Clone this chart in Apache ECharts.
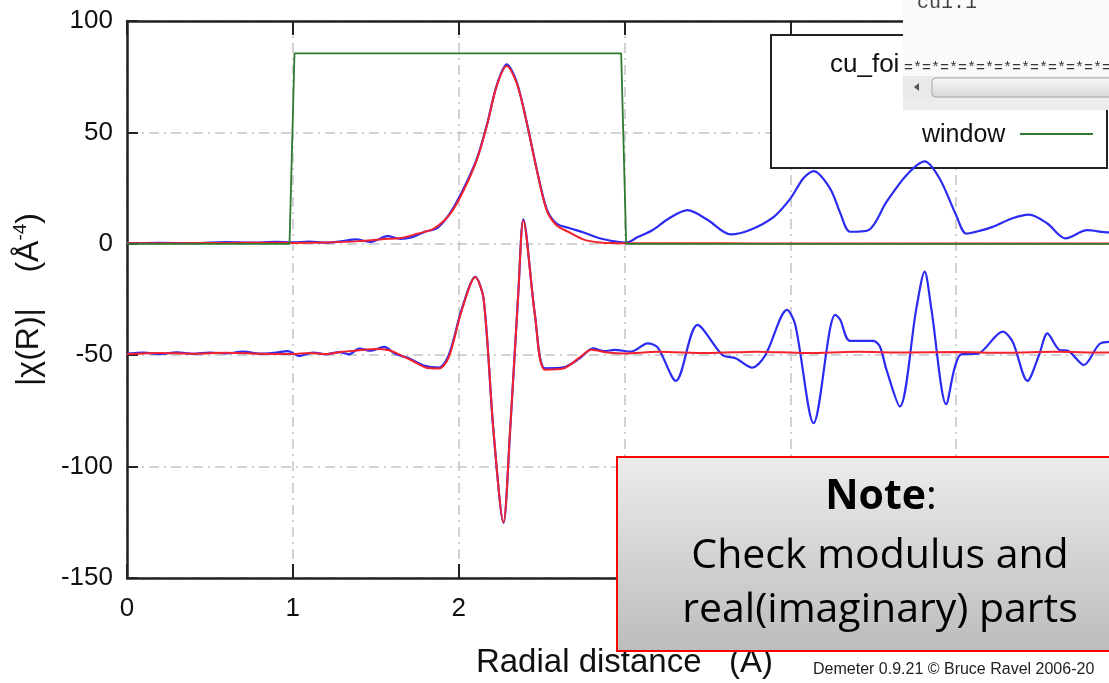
<!DOCTYPE html>
<html>
<head>
<meta charset="utf-8">
<script src="https://cdn.jsdelivr.net/npm/echarts@6/dist/echarts.min.js"></script>
<style>
html,body{margin:0;padding:0;background:#fff;}
#chart{width:1109px;height:683px;}
</style>
</head>
<body>
<div id="chart"></div>
<script>
// ---- data ----
const xTicks = [0, 1, 2, 3, 4, 5, 6];
const yTicks = [-150, -100, -50, 0, 50, 100];

// |chi(R)| data (blue)
const modDataR = [0,0.2,0.4,0.6,0.75,0.9,1.0,1.1,1.2,1.3,1.38,1.47,1.57,1.65,1.72,1.8,1.87,1.95,2.03,2.11,2.17,2.23,2.29,2.35,2.41,2.47,2.53,2.59,2.67,2.75,2.85,2.95,3.01,3.08,3.17,3.27,3.38,3.5,3.64,3.76,3.9,4.0,4.08,4.14,4.24,4.3,4.36,4.47,4.58,4.7,4.81,4.9,5.0,5.06,5.14,5.22,5.34,5.44,5.55,5.66,5.79,5.92,6.0];
const modDataY = [0.3,0.4,0.3,0.8,0.5,0.9,0.6,1.0,0.5,1.2,2.0,0.8,3.4,2.2,3.0,5.5,7.0,14.0,24.8,38.2,53.3,71.2,80.5,72.6,54.7,33.7,15.8,9.1,7.0,5.2,2.5,1.0,0.5,3.0,6.2,11.5,15.1,10.8,4.2,6.3,12.1,20.3,29.5,32.6,24.8,14.0,5.4,6.1,18.8,30.8,37.0,29.3,12.8,4.6,5.8,7.6,11.5,13.1,9.1,2.4,6.1,5.1,6.0];

// |chi(R)| fit (red)
const modFitR = [0,0.3,0.6,0.9,1.0,1.2,1.4,1.55,1.65,1.75,1.85,1.95,2.03,2.11,2.17,2.23,2.29,2.35,2.41,2.47,2.53,2.59,2.67,2.75,2.85,2.95,3.2,3.6,4.0,6.0];
const modFitY = [0.2,0.3,0.4,0.5,0.4,0.6,1.2,2.2,2.6,4.5,6.8,13.5,24.0,37.8,53.0,71.0,79.8,72.2,54.5,33.5,15.2,8.3,5.0,2.0,0.6,0.3,0.2,0.2,0.1,0.1];

// Re[chi(R)] data, plotted with -50 offset (blue)
const reDataR = [0,0.1,0.2,0.3,0.4,0.5,0.6,0.7,0.8,0.9,0.97,1.04,1.12,1.2,1.28,1.34,1.4,1.47,1.55,1.62,1.7,1.79,1.88,1.94,2.02,2.1,2.15,2.21,2.27,2.31,2.36,2.39,2.46,2.52,2.63,2.73,2.81,2.88,2.94,3.04,3.14,3.2,3.31,3.44,3.59,3.67,3.77,3.85,3.98,4.03,4.14,4.24,4.27,4.3,4.36,4.5,4.54,4.58,4.66,4.76,4.81,4.85,4.94,4.99,5.03,5.13,5.28,5.34,5.43,5.5,5.55,5.62,5.68,5.77,5.87,5.95,6.0];
const reDataY = [-49.3,-48.8,-49.5,-48.7,-49.4,-48.8,-49.2,-48.4,-49.3,-48.8,-48.2,-50.4,-48.8,-49.6,-48.6,-49.6,-47.0,-48.0,-46.3,-49.5,-51.4,-54.7,-55.6,-50.0,-29,-14.8,-24.5,-84.2,-125.3,-84,-21.5,11,-31.9,-55.9,-55.5,-51.4,-46.9,-48.2,-47.6,-48.4,-44.7,-46.5,-61.5,-36.4,-49.9,-51.4,-55.6,-49.9,-29.7,-36.4,-80.5,-37.9,-31.9,-34,-43.6,-43.6,-46.1,-56.6,-73,-29,-12.5,-29,-72,-55.9,-49.6,-49.3,-39.4,-43.9,-61.5,-49.9,-40.2,-47.5,-48.2,-54.4,-44.7,-44,-46];

// Re[chi(R)] fit, plotted with -50 offset (red)
const reFitR = [0,0.2,0.4,0.6,0.8,1.0,1.1,1.2,1.3,1.4,1.5,1.58,1.65,1.72,1.8,1.88,1.94,2.02,2.1,2.15,2.21,2.27,2.31,2.36,2.39,2.46,2.52,2.63,2.73,2.8,2.9,3.0,3.2,3.5,3.8,4.1,4.4,4.7,5.0,5.3,5.6,5.9,6.0];
const reFitY = [-49.5,-49,-49.3,-48.9,-49.3,-49.5,-49,-49.5,-48.5,-47.8,-47.2,-47.8,-50,-52.5,-55.5,-56,-51,-29.5,-15,-24.5,-84,-125,-84,-21.5,10.5,-32,-56.5,-56,-51,-47.5,-48.8,-49.2,-48.5,-49,-48.4,-49,-48.5,-48.8,-48.6,-48.9,-48.5,-48.8,-48.7];

// window (green)
const winR = [0, 0.98, 1.01, 2.98, 3.01, 6.0];
const winY = [0, 0, 85.5, 85.5, 0, 0];

const zip = (xs, ys) => xs.map((x, i) => [x, ys[i]]);

const chart = echarts.init(document.getElementById('chart'));
const FONT = 'Liberation Sans, Arial, sans-serif';
const gridLine = { show: true, lineStyle: { color: '#c4c4c4', width: 1.5, type: [10, 5, 2, 5] } };

const option = {
  backgroundColor: '#ffffff',
  animation: false,
  grid: { left: 127, right: -13, top: 21, bottom: 105, containLabel: false, outerBoundsMode: 'none' },
  xAxis: [
    {
      type: 'value', min: xTicks[0], max: xTicks[xTicks.length - 1], interval: 1, position: 'bottom',
      axisLine: { show: true, onZero: false, lineStyle: { color: '#222', width: 2.5 } },
      axisTick: { show: true, inside: true, length: 14, lineStyle: { color: '#222', width: 2 } },
      axisLabel: { color: '#111', fontSize: 26, fontFamily: FONT, margin: 18 },
      splitLine: gridLine,
      name: 'Radial distance   (A)', nameLocation: 'middle', nameGap: 68,
      nameTextStyle: { color: '#111', fontSize: 33, fontFamily: FONT }
    },
    {
      type: 'value', min: xTicks[0], max: xTicks[xTicks.length - 1], interval: 1, position: 'top',
      axisLine: { show: true, onZero: false, lineStyle: { color: '#222', width: 2.5 } },
      axisTick: { show: true, inside: true, length: 14, lineStyle: { color: '#222', width: 2 } },
      axisLabel: { show: false }, splitLine: { show: false }
    }
  ],
  yAxis: [
    {
      type: 'value', min: yTicks[0], max: yTicks[yTicks.length - 1], interval: 50, position: 'left',
      axisLine: { show: true, onZero: false, lineStyle: { color: '#222', width: 2.5 } },
      axisTick: { show: true, inside: true, length: 11, lineStyle: { color: '#222', width: 2 } },
      axisLabel: { color: '#111', fontSize: 26, fontFamily: FONT, margin: 14 },
      splitLine: gridLine,
      name: '{m||χ(R)|    (Å}{s|-4}{m|)}', nameLocation: 'middle', nameGap: 80,
      nameTextStyle: {
        color: '#111', fontFamily: FONT,
        rich: {
          m: { fontSize: 32, fontFamily: FONT, color: '#111', lineHeight: 36 },
          s: { fontSize: 19, fontFamily: FONT, color: '#111', verticalAlign: 'top', lineHeight: 36 }
        }
      }
    }
  ],
  series: [
    { name: 'mod data', type: 'line', data: zip(modDataR, modDataY), showSymbol: false, smooth: 0.3,
      lineStyle: { color: '#2b2bf2', width: 2.2 }, z: 2 },
    { name: 'real data', type: 'line', data: zip(reDataR, reDataY), showSymbol: false, smooth: 0.3,
      lineStyle: { color: '#2b2bf2', width: 2.2 }, z: 2 },
    { name: 'mod fit', type: 'line', data: zip(modFitR, modFitY), showSymbol: false, smooth: 0.3,
      lineStyle: { color: '#f2232e', width: 2 }, z: 3 },
    { name: 'real fit', type: 'line', data: zip(reFitR, reFitY), showSymbol: false, smooth: 0.3,
      lineStyle: { color: '#f2232e', width: 2 }, z: 3 },
    { name: 'window', type: 'line', data: zip(winR, winY), showSymbol: false, smooth: false,
      lineStyle: { color: '#2f7a2f', width: 1.8 }, z: 4 }
  ],
  graphic: [
    // legend box (below the curves, above the grid lines)
    { type: 'rect', z: 1, shape: { x: 771, y: 35, width: 336, height: 133 },
      style: { fill: '#ffffff', stroke: '#222', lineWidth: 2 } },
    { type: 'text', z: 1, x: 830, y: 65,
      style: { text: 'cu_foi', fontSize: 26, fontFamily: FONT, fill: '#111', verticalAlign: 'middle' } },
    { type: 'text', z: 1, x: 922, y: 135,
      style: { text: 'window', fontSize: 25, fontFamily: FONT, fill: '#111', verticalAlign: 'middle' } },
    { type: 'line', z: 1, shape: { x1: 1020, y1: 134, x2: 1093, y2: 134 },
      style: { stroke: '#2f7a2f', lineWidth: 2 } },
    // overlapping window screenshot
    { type: 'rect', z: 110, shape: { x: 903, y: 0, width: 206, height: 110 },
      style: { fill: '#fafafa' } },
    { type: 'rect', z: 111, shape: { x: 903, y: 98, width: 206, height: 12 },
      style: { fill: '#ececec' } },
    { type: 'text', z: 112, x: 917, y: 13,
      style: { text: 'cu1.1', fontSize: 20, fontFamily: 'Liberation Mono, DejaVu Sans Mono, monospace', fill: '#444', verticalAlign: 'bottom' } },
    { type: 'text', z: 112, x: 904, y: 68,
      style: { text: '=*=*=*=*=*=*=*=*=*=*=*=', fontSize: 15, fontFamily: 'Liberation Mono, DejaVu Sans Mono, monospace', fill: '#333', verticalAlign: 'middle' } },
    { type: 'rect', z: 112, shape: { x: 903, y: 76, width: 206, height: 22 },
      style: { fill: '#e9e9e9' } },
    { type: 'polygon', z: 113, shape: { points: [[914, 87], [919, 83], [919, 91]] },
      style: { fill: '#555' } },
    { type: 'rect', z: 113, shape: { x: 932, y: 78, width: 190, height: 19, r: 4 },
      style: { fill: { type: 'linear', x: 0, y: 0, x2: 0, y2: 1, colorStops: [ { offset: 0, color: '#fbfbfb' }, { offset: 1, color: '#d6d6d6' } ] }, stroke: '#a6a6a6', lineWidth: 1 } },
    // note box
    { type: 'rect', z: 120, shape: { x: 617, y: 457, width: 500, height: 194 },
      style: { fill: { type: 'linear', x: 0, y: 0, x2: 0, y2: 1, colorStops: [ { offset: 0, color: '#ececec' }, { offset: 1, color: '#bcbcbc' } ] }, stroke: '#ff0000', lineWidth: 2 } },
    { type: 'text', z: 121, x: 881, y: 497,
      style: { text: '{b|Note}{r|:}', align: 'center', verticalAlign: 'middle',
        rich: { b: { fontSize: 41, fontWeight: 'bold', fontFamily: 'Open Sans, sans-serif', fill: '#000' },
                r: { fontSize: 41, fontFamily: 'Open Sans, sans-serif', fill: '#000' } } } },
    { type: 'text', z: 121, x: 880, y: 556,
      style: { text: 'Check modulus and', align: 'center', verticalAlign: 'middle', fontSize: 41, fontFamily: 'Open Sans, sans-serif', fill: '#000' } },
    { type: 'text', z: 121, x: 880, y: 610,
      style: { text: 'real(imaginary) parts', align: 'center', verticalAlign: 'middle', fontSize: 41, fontFamily: 'Open Sans, sans-serif', fill: '#000' } },
    // footer
    { type: 'text', z: 101, x: 813, y: 670,
      style: { text: 'Demeter 0.9.21 © Bruce Ravel 2006-20', fontSize: 16, fontFamily: FONT, fill: '#222', verticalAlign: 'middle' } }
  ]
};
chart.setOption(option);
</script>
</body>
</html>
